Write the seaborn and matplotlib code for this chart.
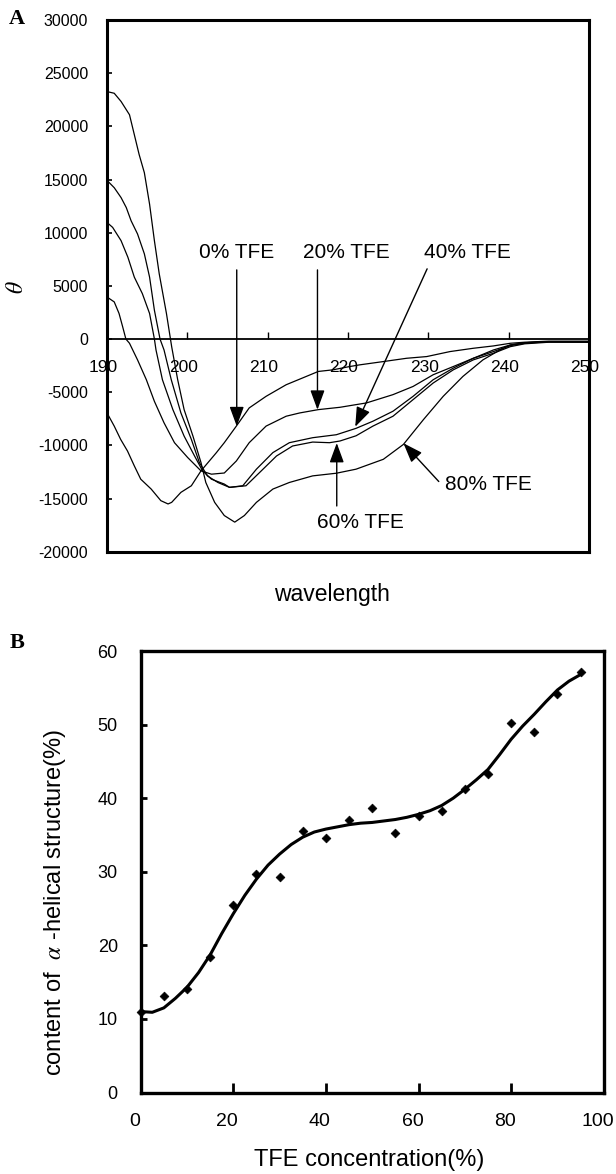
"""CD spectra of the peptide in TFE and helix content vs TFE concentration"""
import numpy as np
import pandas as pd
import matplotlib
matplotlib.use("Agg")
import matplotlib.pyplot as plt
from matplotlib.transforms import ScaledTranslation
import seaborn as sns

# ---- panel A: CD spectra ----
tfe_labels = ["0% TFE", "20% TFE", "40% TFE", "60% TFE", "80% TFE"]

wl_0 = [190.0, 190.9, 191.7, 192.55, 193.4, 194.2, 195.5, 196.7, 197.6, 198.05, 199.2,
        200.5, 201.7, 203.6, 204.6, 206.1, 207.7, 209.8, 212.3, 214.8, 216.3, 218.1,
        220.2, 221.45, 224.4, 227.3, 229.8, 232.7, 235.6, 238.1, 240.2, 242, 245, 250]
theta_0 = [-6950, -8190, -9440, -10530, -11930, -13180, -14110, -15200, -15510, -15360, -14420,
           -13800, -12400, -10700, -9750, -8190, -6480, -5390, -4300, -3520, -3050, -2900,
           -2590, -2430, -2120, -1810, -1650, -1180, -870, -650, -400, -300, -200, -200]

wl_20 = [190.0, 190.9, 191.5, 191.95, 192.35, 192.8, 193.8, 194.9, 195.9, 197.1, 198.4,
         200.05, 201.7, 203.0, 204.6, 206.1, 207.7, 209.8, 212.3, 214.0, 216.3, 219.0,
         221.0, 222.3, 225.6, 228.1, 230.6, 233.1, 235.6, 238.1, 240.2, 242, 245, 250]
theta_20 = [3950, 3490, 2400, 1150, 0, -400, -1960, -3830, -5860, -7880, -9750,
            -11150, -12400, -12710, -12600, -11470, -9750, -8190, -7260, -6950, -6640, -6420,
            -6170, -6010, -5230, -4460, -3360, -2590, -1810, -1030, -560, -350, -250, -250]

wl_40 = [190.0, 190.7, 191.75, 192.6, 193.4, 194.4, 195.3, 195.9, 196.1, 196.9, 198.2,
         199.6, 200.9, 201.9, 203.0, 204.6, 205.25, 206.9, 208.6, 210.65, 212.7, 215.6,
         218.55, 221.0, 223.1, 225.6, 228.1, 230.6, 233.1, 235.6, 238.1, 240.2, 242, 245, 250]
theta_40 = [10960, 10500, 9250, 7690, 5820, 4270, 2400, 0, -1030, -3830, -6640,
            -9130, -11000, -12400, -13180, -13640, -13950, -13800, -12240, -10680, -9750, -9280,
            -9000, -8400, -7730, -6790, -5390, -3830, -2740, -1810, -1180, -620, -400, -250, -300]

wl_60 = [190.0, 190.9, 191.75, 192.4, 193.0, 193.8, 194.65, 195.3, 195.9, 196.6, 197.1,
         198.0, 199.2, 200.5, 201.5, 202.5, 203.8, 205.25, 207.3, 209.0, 211.1, 213.1,
         215.6, 217.7, 219.0, 221.0, 223.1, 225.6, 228.1, 230.6, 233.1, 235.6, 238.1, 240.2,
         242, 245, 250]
theta_60 = [14920, 14230, 13300, 12360, 11120, 9880, 8010, 5820, 2710, 0, -1030,
            -3830, -6950, -9440, -11620, -12870, -13490, -13950, -13800, -12550, -11000, -10060,
            -9690, -9750, -9590, -9100, -8190, -7260, -5700, -4140, -2900, -1960, -1340, -720,
            -450, -300, -300]

wl_80 = [190.0, 190.9, 191.75, 192.8, 193.4, 194.0, 194.65, 195.3, 195.9, 196.5, 197.4,
         198.05, 198.8, 199.6, 200.7, 201.7, 202.3, 203.4, 204.6, 205.9, 207.1, 208.6,
         210.65, 212.7, 215.6, 218.55, 221.0, 224.4, 226.9, 229.4, 231.85, 234.3, 236.8,
         238.9, 240.2, 242, 245, 250]
theta_80 = [23270, 23110, 22340, 21090, 19220, 17350, 15640, 12680, 9250, 6140, 2400,
            -720, -3830, -6640, -9130, -11620, -13490, -15360, -16600, -17220, -16600, -15360,
            -14110, -13490, -12870, -12620, -12240, -11310, -9910, -7570, -5390, -3520, -1960,
            -1030, -560, -350, -250, -250]

# label text position, arrow tail, arrow tip (data coordinates)
label_pos = [(206.15, 8100), (219.8, 8100), (234.9, 8100), (221.6, -17300), (237.5, -13700)]
arrow_tail = [(206.15, 6500), (216.2, 6500), (229.85, 6600), (218.6, -15700), (231.3, -13400)]
arrow_tip = [(206.15, -8200), (216.2, -6650), (220.9, -8250), (218.6, -9780), (226.9, -9800)]

# ---- panel B: helix content vs TFE concentration ----
tfe_conc = [0, 5, 10, 15, 20, 25, 30, 35, 40, 45, 50, 55, 60, 65, 70, 75, 80, 85, 90, 95]
helix_content = [11.0, 13.1, 14.0, 18.4, 25.5, 29.7, 29.3, 35.55, 34.65, 37.1, 38.7, 35.3,
                 37.6, 38.3, 41.2, 43.3, 50.2, 49.0, 54.1, 57.2]

fit_conc = [0, 2.5, 5, 7.5, 10, 12.5, 15, 17.5, 20, 22.5, 25, 27.5, 30, 32.5, 35, 37.5, 40,
            42.5, 45, 47.5, 50, 52.5, 55, 57.5, 60, 62.5, 65, 67.5, 70, 72.5, 75, 77.5, 80,
            82.5, 85, 87.5, 90, 92.5, 95]
fit_content = [11.0, 10.9, 11.5, 12.8, 14.3, 16.3, 18.7, 21.6, 24.3, 26.8, 29.0, 30.9, 32.4,
               33.7, 34.7, 35.4, 35.8, 36.1, 36.4, 36.6, 36.7, 36.9, 37.1, 37.4, 37.8, 38.3,
               39.0, 40.0, 41.2, 42.5, 43.9, 45.9, 48.0, 49.8, 51.4, 53.1, 54.7, 55.9, 56.8]

cd_df = pd.concat([
    pd.DataFrame({"wavelength": wl, "theta": th, "sample": lab})
    for wl, th, lab in zip([wl_0, wl_20, wl_40, wl_60, wl_80],
                           [theta_0, theta_20, theta_40, theta_60, theta_80],
                           tfe_labels)
], ignore_index=True)

sns.set_theme(style="white")
plt.rcParams["font.family"] = ["Liberation Sans", "DejaVu Sans"]
plt.rcParams["mathtext.fontset"] = "stix"
plt.rcParams["axes.unicode_minus"] = False

W, H = 616, 1174
fig = plt.figure(figsize=(W / 100, H / 100), dpi=100)


def px_axes(left, top, right, bottom):
    return [left / W, 1 - bottom / H, (right - left) / W, (bottom - top) / H]


def nudge_labels(labels, dx_px):
    # Excel puts the category labels a few pixels left of the tick
    for lab in labels:
        lab.set_transform(lab.get_transform() +
                          ScaledTranslation(dx_px / 100, 0, fig.dpi_scale_trans))


# ---------------- panel A ----------------
axA = fig.add_axes(px_axes(107, 20, 589, 551.7))
sns.lineplot(data=cd_df, x="wavelength", y="theta", hue="sample",
             palette={lab: "black" for lab in tfe_labels}, estimator=None,
             linewidth=0.9, legend=False, ax=axA)
axA.set_xlim(190, 250)
axA.set_ylim(-20000, 30000)
axA.set_yticks(np.arange(-20000, 30001, 5000))
axA.set_xlabel("")
axA.set_ylabel("")
axA.tick_params(axis="x", bottom=False, labelbottom=False)
axA.tick_params(axis="y", left=True, direction="in", length=3.5, width=1.2,
                labelsize=11.5, pad=13.5, colors="black")
for sp in axA.spines.values():
    sp.set_visible(True)
    sp.set_color("black")
    sp.set_linewidth(2.2)

# wavelength axis drawn along theta = 0
zero_frac = (0 - (-20000)) / 50000
secA = axA.secondary_xaxis(zero_frac)
secA.set_xticks(np.arange(190, 251, 10))
secA.tick_params(direction="in", length=5, width=1, labelsize=12.5, pad=15, colors="black")
secA.spines["bottom"].set_color("black")
secA.spines["bottom"].set_linewidth(1.3)
nudge_labels(secA.get_xticklabels(), -4)

for lab, pos, tail, tip in zip(tfe_labels, label_pos, arrow_tail, arrow_tip):
    axA.annotate("", xy=tip, xytext=tail,
                 arrowprops=dict(arrowstyle="-|>,head_length=0.6,head_width=0.22",
                                 mutation_scale=20, color="black", lw=1,
                                 shrinkA=0, shrinkB=0))
    axA.text(pos[0], pos[1], lab, ha="center", va="center", fontsize=15, color="black")

fig.text(17 / W, 1 - 287 / H, r"$\theta$", rotation=90, ha="center", va="center",
         fontsize=17, color="black")
fig.text(332 / W, 1 - 595 / H, "wavelength", ha="center", va="center",
         fontsize=16.5, color="black")
fig.text(17 / W, 1 - 19 / H, "A", ha="center", va="center", fontsize=16,
         fontweight="bold", family=["Liberation Serif", "DejaVu Serif"], color="black")

# ---------------- panel B ----------------
axB = fig.add_axes(px_axes(140.7, 651, 603.7, 1092.5))
sns.lineplot(x=fit_conc, y=fit_content, color="black", linewidth=2.2, ax=axB)
sns.scatterplot(x=tfe_conc, y=helix_content, marker="D", s=20, color="black",
                edgecolor="black", linewidth=0.5, ax=axB, zorder=3, clip_on=False)
axB.set_xlim(0, 100)
axB.set_ylim(0, 60)
axB.set_xticks(np.arange(0, 101, 20))
axB.set_yticks(np.arange(0, 61, 10))
axB.tick_params(axis="x", bottom=True, direction="in", length=7, width=2,
                labelsize=14, pad=14.5, colors="black")
axB.tick_params(axis="y", left=True, direction="in", length=4.5, width=2,
                labelsize=13, pad=16.5, colors="black")
for sp in axB.spines.values():
    sp.set_visible(True)
    sp.set_color("black")
    sp.set_linewidth(2.4)
nudge_labels(axB.get_xticklabels(), -6)

fig.text(55 / W, 1 - 902 / H, r"content of  $\alpha$ -helical structure(%)", rotation=90,
         ha="center", va="center", fontsize=17, color="black")
fig.text(369 / W, 1 - 1160 / H, "TFE concentration(%)", ha="center", va="center",
         fontsize=17, color="black")
fig.text(17 / W, 1 - 643 / H, "B", ha="center", va="center", fontsize=16,
         fontweight="bold", family=["Liberation Serif", "DejaVu Serif"], color="black")

fig.savefig("out.png", dpi=100)
